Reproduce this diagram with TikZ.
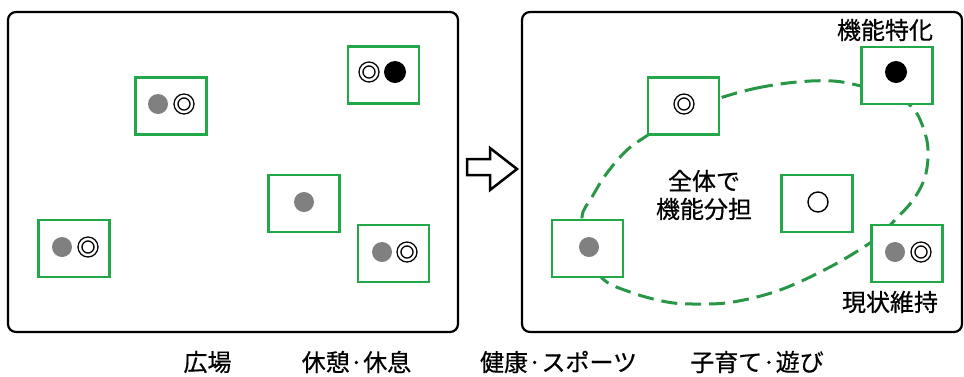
\documentclass[tikz,border=0pt]{standalone}
\usepackage{fontspec}
\newfontfamily\jp[FakeBold=0.6]{Noto Sans CJK JP}
\definecolor{boxgreen}{RGB}{34,168,72}
\definecolor{dashgreen}{RGB}{40,150,70}
\definecolor{dotgray}{RGB}{128,128,128}
\tikzset{
  panel/.style={draw=black, line width=2.2pt, rounded corners=8pt},
  gbox/.style={draw=boxgreen, line width=2.7pt, fill=white, minimum width=71pt, minimum height=57pt, inner sep=0pt},
  graydot/.style={circle, fill=dotgray, minimum size=20pt, inner sep=0pt},
  blackdot/.style={circle, fill=black, minimum size=22pt, inner sep=0pt},
  whitedot/.style={circle, draw=black, line width=1.4pt, fill=white, minimum size=20pt, inner sep=0pt},
  ring/.style={circle, draw=black, line width=1.4pt, double=white, double distance=2.4pt, minimum size=16pt, inner sep=0pt},
  lbl/.style={font=\jp\fontsize{24}{28}\selectfont, inner sep=0pt, align=center},
  oval/.style={draw=dashgreen, line width=3pt, dash pattern=on 16pt off 8pt},
  bigarrow/.style={draw=black, line width=2.5pt, fill=white, line join=miter}
}
\begin{document}
\begin{tikzpicture}[x=1pt,y=-1pt]
\useasboundingbox (0,0) rectangle (964,376);
% panels
\draw[panel] (8,12) rectangle (458,332);
\draw[panel] (522,12) rectangle (962,332);
% arrow
\draw[bigarrow] (467,159) -- (490,159) -- (490,148) -- (517,169) -- (490,190) -- (490,175) -- (467,175) -- cycle;
% ---- left panel
\node[gbox] (A) at (171,106) {};
\node[graydot] (A1) at (158,104) {};
\node[ring] (A2) at (184,104) {};
\node[gbox] (B) at (383.5,75) {};
\node[ring] (B1) at (369,72) {};
\node[blackdot] (B2) at (395,72) {};
\node[gbox] (C) at (304,203.5) {};
\node[graydot] (C1) at (304,202) {};
\node[gbox] (D) at (74,248.5) {};
\node[graydot] (D1) at (62,247) {};
\node[ring] (D2) at (88,247) {};
\node[gbox] (E) at (393.5,253.5) {};
\node[graydot] (E1) at (382,252) {};
\node[ring] (E2) at (407,252) {};
% ---- right panel: dashed loop
\draw[oval] plot[smooth cycle, tension=0.6] coordinates {
 (720,98) (757,88) (797,82) (833,81) (861,86) (890,94) (912,107) (923,127)
 (928,150) (925,177) (913,200) (895,220) (883,232) (870,243) (830,267)
 (780,290) (733,302) (697,304) (667,302) (630,292) (602,278) (588,248)
 (582,217) (592,197) (607,173) (627,150) (648,135) (683,112)};
\node[gbox] (F) at (683.5,106) {};
\node[ring] (F1) at (684,104) {};
\node[gbox] (G) at (897,75.5) {};
\node[blackdot] (G1) at (896,72) {};
\node[gbox] (H) at (817,203.5) {};
\node[whitedot] (H1) at (818,202) {};
\node[gbox] (I) at (587.5,248.5) {};
\node[graydot] (I1) at (589,247) {};
\node[gbox] (J) at (907,253.5) {};
\node[graydot] (J1) at (895,252) {};
\node[ring] (J2) at (921,252) {};
% texts
\node[lbl] (t1) at (885,30) {機能特化};
\node[lbl] (t2) at (890,302) {現状維持};
\node[lbl] (t3) at (704,195) {全体で\\機能分担};
\node[lbl] (b1) at (207.5,362) {広場};
\node[lbl] (b2) at (356.5,362) {休憩·休息};
\node[lbl] (b3) at (558.5,362) {健康·スポーツ};
\node[lbl] (b4) at (757,362) {子育て·遊び};
\end{tikzpicture}
\end{document}
